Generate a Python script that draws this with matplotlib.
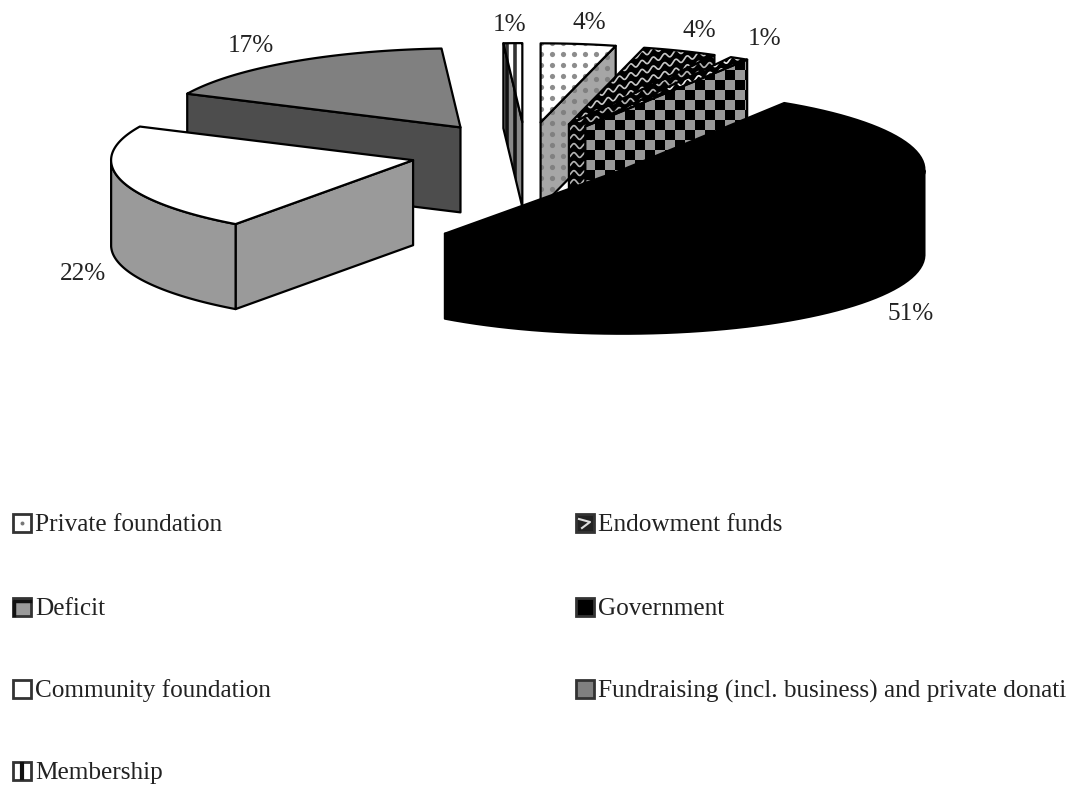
import numpy as np
import matplotlib
matplotlib.use("Agg")
import matplotlib.pyplot as plt
from matplotlib.collections import PolyCollection
from matplotlib.patches import Polygon, Rectangle

# ── Data ───────────────────────────────────────────────────────────────────
SOURCES = ["Private foundation", "Endowment funds", "Deficit", "Government",
           "Community foundation", "Fundraising (incl. business) and private donati",
           "Membership"]
SHARES = [4, 4, 1, 51, 22, 17, 1]

# ── Layout (pixel space) ───────────────────────────────────────────────────
W, H = 1073, 785
CX, CY = 526, 152.6     # pie centre before explosion
RX, RY = 302, 79        # ellipse of the top face
DEPTH = 85
EXPLODE = 0.386

LABEL_XY = [(589, 23), (699, 31), (765, 39), (911, 314),
            (83, 274), (251, 46), (510, 25)]
LEGEND_XY = [(22, 523), (585, 523), (22, 607), (585, 607),
             (22, 689), (585, 689), (22, 771)]

GREY = "#9a9a9a"
STYLES = [
    {"top": ("dots", "white", "#8c8c8c"), "wall": ("dots", "#a6a6a6", "#808080")},
    {"top": ("waves", "black", "#c8c8c8"), "wall": ("waves", "black", "#b4b4b4")},
    {"top": ("waves", "black", "#eeeeee"), "wall": ("checker", "black", GREY)},
    {"top": ("solid", "black", None), "wall": ("solid", "black", None)},
    {"top": ("solid", "white", None), "wall": ("solid", GREY, None)},
    {"top": ("solid", "#808080", None), "wall": ("solid", "#4d4d4d", None)},
    {"top": ("stripes", "white", "#333333"), "wall": ("stripes", "#888888", "#111111")},
]

plt.rcParams["font.family"] = ["Liberation Serif", "DejaVu Serif"]


# ── Fill textures, clipped to a polygon ────────────────────────────────────
def add_texture(ax, poly, kind, ink, z, slope=0.0):
    (x0, y0), (x1, y1) = poly.min(axis=0), poly.max(axis=0)
    patch = Polygon(poly, closed=True, transform=ax.transData)
    if kind == "dots":
        xs, ys = np.meshgrid(np.arange(x0 - 11, x1 + 11, 11.0),
                             np.arange(y0 - 11, y1 + 11, 11.0))
        art = ax.scatter(xs.ravel(), ys.ravel(), s=14, color=ink, lw=0, zorder=z)
        art.set_clip_path(patch)
    elif kind == "stripes":
        for x in np.arange(x0 + 4, x1, 8.0):
            line = ax.plot([x, x], [y0, y1], color=ink, lw=2.6, zorder=z)[0]
            line.set_clip_path(patch)
    elif kind == "waves":
        t = np.arange(x0 - 30, x1 + 30, 0.5)
        for y in np.arange(y0 - 80, y1 + 80, 9.0):
            wave = y + slope * (t - x0) + 2.4 * np.sin(t / 1.8)
            line = ax.plot(t, wave, color=ink, lw=1.2, zorder=z)[0]
            line.set_clip_path(patch)
    elif kind == "checker":
        cell = 10.0
        squares = []
        for i, x in enumerate(np.arange(x0 - cell, x1 + cell, cell)):
            for j, y in enumerate(np.arange(y0 - cell, y1 + cell, cell)):
                if (i + j) % 2 == 0:
                    squares.append([(x, y), (x + cell, y), (x + cell, y + cell), (x, y + cell)])
        art = PolyCollection(squares, facecolors=ink, edgecolors="none", zorder=z)
        ax.add_collection(art)
        art.set_clip_path(patch)


def add_face(ax, poly, style, z, slope=0.0):
    kind, face, ink = style
    ax.add_patch(Polygon(poly, closed=True, facecolor=face, edgecolor="none", zorder=z))
    if kind != "solid":
        add_texture(ax, poly, kind, ink, z + 0.1, slope)
    ax.add_patch(Polygon(poly, closed=True, facecolor="none", edgecolor="black",
                         lw=1.6, joinstyle="round", zorder=z + 0.2))


# ── Exploded 3D slices ─────────────────────────────────────────────────────
def rim(apex, angles):
    # Angles run clockwise from 12 o'clock
    return np.column_stack([apex[0] + RX * np.sin(angles),
                            apex[1] - RY * np.cos(angles)])


def draw_slice(ax, start, end, style, z):
    mid = (start + end) / 2
    apex = np.array([CX + EXPLODE * RX * np.sin(mid), CY - EXPLODE * RY * np.cos(mid)])
    down = np.array([0, DEPTH])
    angles = np.linspace(start, end, 80)
    arc = rim(apex, angles)

    # Side walls that face the viewer, outer curved wall last
    if np.cos(start - np.pi / 2) < 0:
        add_face(ax, np.array([apex, arc[0], arc[0] + down, apex + down]), style["wall"], z)
    if np.cos(end + np.pi / 2) < 0:
        add_face(ax, np.array([apex, arc[-1], arc[-1] + down, apex + down]), style["wall"], z + 0.3)
    lower = np.cos(angles) < 0
    if lower.any():
        front = arc[lower]
        add_face(ax, np.vstack([front, front[::-1] + down]), style["wall"], z + 0.6)
    add_face(ax, np.vstack([apex, arc]), style["top"], z + 1, slope=-0.3)


# ── Legend swatches ────────────────────────────────────────────────────────
def draw_swatch(ax, x, y, style):
    kind, face, ink = style["top"]
    wall_kind = style["wall"][0]
    if wall_kind == "checker":
        face = GREY
    elif kind == "waves":
        face = "#222222"
    ax.add_patch(Rectangle((x - 9, y - 9), 18, 18, facecolor=face, edgecolor="#333333",
                           lw=2.0, zorder=5))
    if wall_kind == "checker":
        ax.plot([x + 8, x - 8, x - 8], [y - 6, y - 6, y + 8], color="#111111", lw=2.5, zorder=6)
    elif kind == "dots":
        ax.scatter([x], [y], s=8, color="#777777", lw=0, zorder=6)
    elif kind == "stripes":
        ax.plot([x, x], [y - 7, y + 7], color="#111111", lw=3, zorder=6)
    elif kind == "waves":
        ax.plot([x - 6, x + 5, x - 3], [y - 4, y - 1, y + 5], color="#dddddd", lw=1.5, zorder=6)


def main():
    fig = plt.figure(figsize=(W / 100, H / 100), dpi=100)
    ax = fig.add_axes([0, 0, 1, 1])
    ax.set_xlim(0, W)
    ax.set_ylim(H, 0)
    ax.axis("off")

    edges = np.radians(np.concatenate([[0], np.cumsum(SHARES)]) * 3.6)

    # Painter's order: slices further back go first
    order = sorted(range(len(SHARES)),
                   key=lambda i: -np.cos((edges[i] + edges[i + 1]) / 2))
    for rank, i in enumerate(order):
        draw_slice(ax, edges[i], edges[i + 1], STYLES[i], 1 + 2 * rank)

    for share, (x, y) in zip(SHARES, LABEL_XY):
        ax.text(x, y, f"{share}%", fontsize=18.2, color="#222222", ha="center", va="center", zorder=30)

    for name, style, (x, y) in zip(SOURCES, STYLES, LEGEND_XY):
        draw_swatch(ax, x, y, style)
        ax.text(x + 13, y + 2, name, fontsize=18.2, color="#222222", ha="left", va="center", zorder=30)

    fig.savefig("out.png", dpi=100)
    plt.close(fig)


if __name__ == "__main__":
    main()
